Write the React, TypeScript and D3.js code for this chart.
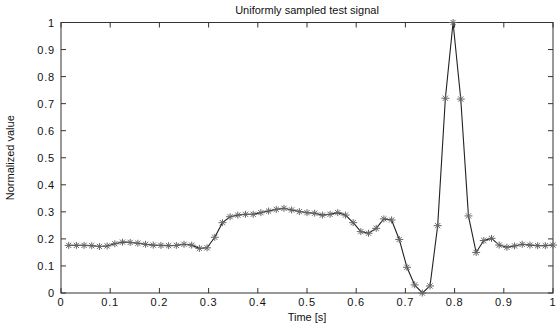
import React, { useEffect, useRef } from "react";
import * as d3 from "d3";

// sample index k -> time k/64
const sampleIndex = d3.range(1, 65);
const signalValues = [
  0.176, 0.176, 0.176, 0.175, 0.172, 0.174, 0.182, 0.188, 0.187, 0.184,
  0.18, 0.177, 0.176, 0.175, 0.176, 0.18, 0.177, 0.165, 0.167, 0.206,
  0.26, 0.282, 0.288, 0.291, 0.291, 0.297, 0.303, 0.309, 0.313, 0.307,
  0.301, 0.297, 0.295, 0.288, 0.291, 0.297, 0.288, 0.26, 0.227, 0.221,
  0.239, 0.274, 0.27, 0.198, 0.095, 0.03, 0.0, 0.026, 0.249, 0.72,
  1.0, 0.717, 0.285, 0.15, 0.194, 0.202, 0.177, 0.169, 0.174, 0.18,
  0.177, 0.175, 0.175, 0.177,
];
const xTicks = [0, 0.1, 0.2, 0.3, 0.4, 0.5, 0.6, 0.7, 0.8, 0.9, 1];
const yTicks = [0, 0.1, 0.2, 0.3, 0.4, 0.5, 0.6, 0.7, 0.8, 0.9, 1];

const W = 558, H = 327;
const margin = { left: 61, right: 5, top: 22.5, bottom: 34 };

const App = () => {
  const ref = useRef<SVGSVGElement>(null);

  useEffect(() => {
    const svg = d3.select(ref.current);
    svg.selectAll("*").remove();
    const iw = W - margin.left - margin.right;
    const ih = H - margin.top - margin.bottom;

    const x = d3.scaleLinear().domain([0, 1]).range([0, iw]);
    const y = d3.scaleLinear().domain([0, 1]).range([ih, 0]);
    const data = sampleIndex.map((k, i) => ({ t: k / 64, v: signalValues[i] }));

    const g = svg.append("g").attr("transform", `translate(${margin.left},${margin.top})`);
    const font = "'Liberation Sans', Arial, sans-serif";

    // box
    g.append("rect").attr("width", iw).attr("height", ih)
      .attr("fill", "none").attr("stroke", "#333").attr("stroke-width", 1);

    const tl = 5;
    // x ticks bottom + top, inward
    xTicks.forEach(t => {
      g.append("line").attr("x1", x(t)).attr("x2", x(t)).attr("y1", ih).attr("y2", ih - tl).attr("stroke", "#333");
      g.append("line").attr("x1", x(t)).attr("x2", x(t)).attr("y1", 0).attr("y2", tl).attr("stroke", "#333");
      g.append("text").attr("x", x(t)).attr("y", ih + 13)
        .attr("text-anchor", "middle").attr("font-family", font).attr("font-size", 11)
        .attr("letter-spacing", 0.8).attr("fill", "#111").text(String(t));
    });
    yTicks.forEach(t => {
      g.append("line").attr("x1", 0).attr("x2", tl).attr("y1", y(t)).attr("y2", y(t)).attr("stroke", "#333");
      g.append("line").attr("x1", iw).attr("x2", iw - tl).attr("y1", y(t)).attr("y2", y(t)).attr("stroke", "#333");
      g.append("text").attr("x", -6).attr("y", y(t) + 4)
        .attr("text-anchor", "end").attr("font-family", font).attr("font-size", 11)
        .attr("letter-spacing", 0.8).attr("fill", "#111").text(String(t));
    });

    const line = d3.line<{ t: number; v: number }>().x(d => x(d.t)).y(d => y(d.v));
    g.append("path").attr("d", line(data)).attr("fill", "none")
      .attr("stroke", "#222").attr("stroke-width", 1.1);

    const star = (cx: number, cy: number) =>
      `M${cx - 4},${cy}H${cx + 4}M${cx},${cy - 3.5}V${cy + 3.5}` +
      `M${cx - 2.6},${cy - 2.6}L${cx + 2.6},${cy + 2.6}M${cx - 2.6},${cy + 2.6}L${cx + 2.6},${cy - 2.6}`;
    g.append("g").selectAll("path").data(data).join("path")
      .attr("d", d => star(x(d.t), y(d.v)))
      .attr("stroke", "#666").attr("stroke-width", 1).attr("fill", "none");

    svg.append("text").attr("x", margin.left + iw / 2).attr("y", 14)
      .attr("text-anchor", "middle").attr("font-family", font).attr("font-size", 11)
      .attr("fill", "#111").text("Uniformly sampled test signal");
    svg.append("text").attr("x", margin.left + iw / 2).attr("y", H - 6)
      .attr("text-anchor", "middle").attr("font-family", font).attr("font-size", 11)
      .attr("fill", "#111").text("Time [s]");
    svg.append("text")
      .attr("transform", `translate(14,${margin.top + ih / 2}) rotate(-90)`)
      .attr("text-anchor", "middle").attr("font-family", font).attr("font-size", 11)
      .attr("fill", "#111").text("Normalized value");
  }, []);

  return (
    <svg ref={ref} width={W} height={H}
      style={{ position: "absolute", left: 0, top: 0, background: "#fff" }} />
  );
};

export default App;
